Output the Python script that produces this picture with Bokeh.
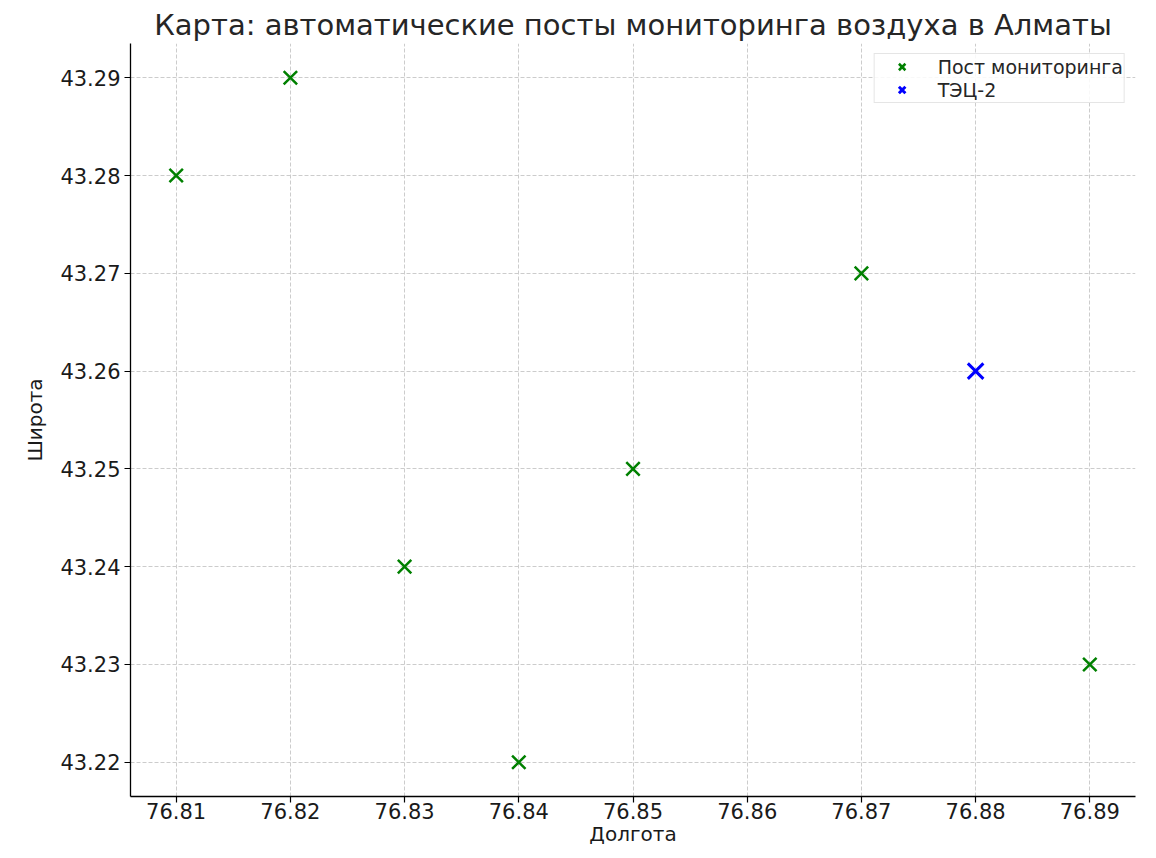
from bokeh.plotting import figure
from bokeh.models import FixedTicker, PrintfTickFormatter, Range1d, Legend, LegendItem, Title
from bokeh.embed import file_html
from bokeh.resources import INLINE

# Data
post_lon = [76.81, 76.82, 76.83, 76.84, 76.85, 76.87, 76.89]
post_lat = [43.28, 43.29, 43.24, 43.22, 43.25, 43.27, 43.23]
tec_lon = [76.88]
tec_lat = [43.26]
x_ticks = [76.81, 76.82, 76.83, 76.84, 76.85, 76.86, 76.87, 76.88, 76.89]
y_ticks = [43.22, 43.23, 43.24, 43.25, 43.26, 43.27, 43.28, 43.29]
title_text = "Карта: автоматические посты мониторинга воздуха в Алматы"
post_label = "Пост мониторинга"
tec_label = "ТЭЦ-2"

FONT = "DejaVu Sans"

p = figure(width=1148, height=854, output_backend="svg", toolbar_location=None,
           x_range=Range1d(76.806, 76.894), y_range=Range1d(43.2165, 43.2935),
           min_border_left=130, min_border_right=13, min_border_bottom=58, min_border_top=43)

p.title = Title(text=title_text, align="center", text_font=FONT, text_font_size="29px",
                text_font_style="normal", text_color="#262626", standoff=3, offset=0)

p.outline_line_color = None
p.background_fill_color = "white"

r1 = p.scatter(post_lon, post_lat, marker="x", size=19, line_color="green", line_width=2.5)
r2 = p.scatter(tec_lon, tec_lat, marker="x", size=22, line_color="blue", line_width=3)

legend = Legend(items=[LegendItem(label=post_label, renderers=[r1]),
                       LegendItem(label=tec_label, renderers=[r2])],
                location="top_right", margin=10, padding=1, spacing=0,
                glyph_width=52, glyph_height=23, label_height=23, label_standoff=10,
                label_text_font=FONT, label_text_font_size="19px", label_text_color="#262626",
                border_line_color="#cccccc", border_line_width=1,
                background_fill_color="white", background_fill_alpha=0.85)
p.add_layout(legend)

for ax in (p.xaxis[0], p.yaxis[0]):
    ax.major_label_text_font = FONT
    ax.major_label_text_font_size = "21px"
    ax.major_label_text_color = "#1a1a1a"
    ax.axis_label_text_font = FONT
    ax.axis_label_text_font_size = "20px"
    ax.axis_label_text_font_style = "normal"
    ax.axis_label_text_color = "#1a1a1a"
    ax.axis_line_color = "black"
    ax.axis_line_width = 1.3
    ax.major_tick_line_color = "black"
    ax.major_tick_line_width = 1.2
    ax.major_tick_out = 6
    ax.major_tick_in = 0
    ax.minor_tick_line_color = None
    ax.formatter = PrintfTickFormatter(format="%.2f")

p.xaxis[0].ticker = FixedTicker(ticks=x_ticks)
p.yaxis[0].ticker = FixedTicker(ticks=y_ticks)
p.xaxis[0].axis_label = "Долгота"
p.yaxis[0].axis_label = "Широта"
p.xaxis[0].major_label_standoff = 0
p.xaxis[0].axis_label_standoff = 0
p.yaxis[0].major_label_standoff = 4
p.yaxis[0].axis_label_standoff = 10

p.grid.grid_line_color = "#cccccc"
p.grid.grid_line_dash = "4 2"
p.grid.grid_line_width = 1

open("out.html", "w").write(file_html(p, INLINE))
